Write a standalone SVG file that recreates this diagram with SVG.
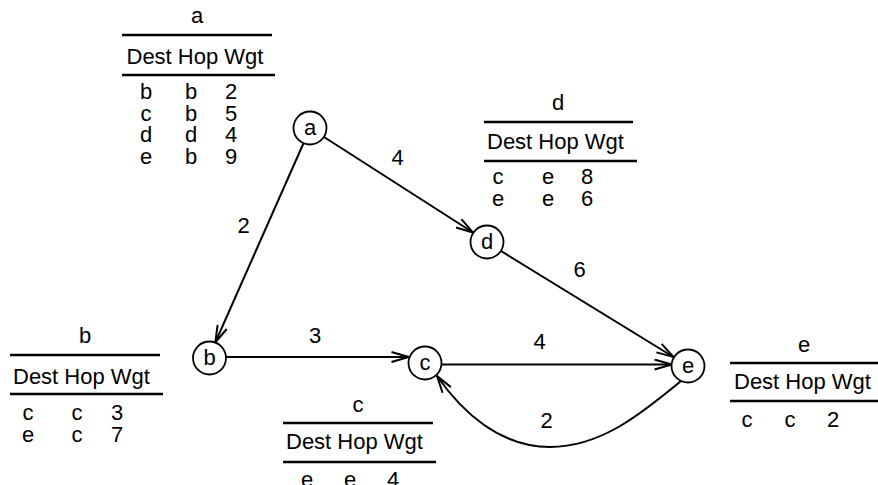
<svg xmlns="http://www.w3.org/2000/svg" width="878" height="485" viewBox="0 0 878 485">
<defs>
<style>
text{font-family:"Liberation Sans",Arial,sans-serif;font-size:22px;fill:#000}
.m{text-anchor:middle}
.rule{stroke:#000;stroke-width:2.5;fill:none}
.node circle{fill:#fff;stroke:#000;stroke-width:1.8}
.edge{stroke:#000;stroke-width:2;fill:none;marker-end:url(#arr)}
</style>
<marker id="arr" markerUnits="userSpaceOnUse" viewBox="0 0 18 12" refX="17.5" refY="6" markerWidth="18" markerHeight="12" orient="auto">
<path d="M0.5,1 L17.5,6 L0.5,11" fill="none" stroke="#000" stroke-width="2"/>
</marker>
</defs>
<rect width="878" height="485" fill="#fff"/>

<g id="connectors">
<line class="edge" x1="303.4" y1="143.5" x2="215.3" y2="342.5"/>
<line class="edge" x1="324" y1="137" x2="473" y2="232.5"/>
<line class="edge" x1="501" y1="251" x2="673.5" y2="357"/>
<line class="edge" x1="226" y1="357" x2="408.5" y2="357"/>
<line class="edge" x1="441.5" y1="364.5" x2="671.5" y2="364.5"/>
<path class="edge" d="M681,381 C640,415 600,447 550,447 C500,447 462,412 437,376"/>
<text class="m" x="397.5" y="165">4</text>
<text class="m" x="243.5" y="233">2</text>
<text class="m" x="579.5" y="277">6</text>
<text class="m" x="315" y="343">3</text>
<text class="m" x="539.5" y="349">4</text>
<text class="m" x="546.5" y="428">2</text>
</g>

<g id="node-a" class="node"><circle cx="310" cy="128" r="16.5"/><text class="m" x="310" y="134.5">a</text></g>
<g id="node-b" class="node"><circle cx="209.5" cy="358" r="16.5"/><text class="m" x="209.5" y="365">b</text></g>
<g id="node-c" class="node"><circle cx="425" cy="363" r="16.5"/><text class="m" x="425" y="369.5">c</text></g>
<g id="node-d" class="node"><circle cx="487" cy="242" r="16.5"/><text class="m" x="487" y="249">d</text></g>
<g id="node-e" class="node"><circle cx="688" cy="366" r="16.5"/><text class="m" x="688" y="372.5">e</text></g>

<g id="table-a">
<text class="m" x="197" y="23">a</text>
<line class="rule" x1="122" y1="35" x2="272" y2="35"/>
<text x="126.5" y="64">Dest Hop Wgt</text>
<line class="rule" x1="122" y1="75" x2="275" y2="75"/>
<text class="m" x="146" y="99">b</text><text class="m" x="191" y="99">b</text><text class="m" x="231" y="99">2</text>
<text class="m" x="146" y="120.5">c</text><text class="m" x="191" y="120.5">b</text><text class="m" x="231" y="120.5">5</text>
<text class="m" x="146" y="142">d</text><text class="m" x="191" y="142">d</text><text class="m" x="231" y="142">4</text>
<text class="m" x="146" y="163.5">e</text><text class="m" x="191" y="163.5">b</text><text class="m" x="231" y="163.5">9</text>
</g>

<g id="table-b">
<text class="m" x="85" y="343">b</text>
<line class="rule" x1="10" y1="355" x2="160" y2="355"/>
<text x="13" y="384">Dest Hop Wgt</text>
<line class="rule" x1="10" y1="394" x2="163" y2="394"/>
<text class="m" x="28" y="420">c</text><text class="m" x="77" y="420">c</text><text class="m" x="117" y="420">3</text>
<text class="m" x="28" y="441.5">e</text><text class="m" x="77" y="441.5">c</text><text class="m" x="117" y="441.5">7</text>
</g>

<g id="table-c">
<text class="m" x="358" y="412">c</text>
<line class="rule" x1="283" y1="423" x2="433" y2="423"/>
<text x="286" y="449">Dest Hop Wgt</text>
<line class="rule" x1="283" y1="462" x2="436" y2="462"/>
<text class="m" x="307" y="487">e</text><text class="m" x="350" y="487">e</text><text class="m" x="393" y="487">4</text>
</g>

<g id="table-d">
<text class="m" x="558" y="110">d</text>
<line class="rule" x1="484" y1="122" x2="633" y2="122"/>
<text x="487" y="149">Dest Hop Wgt</text>
<line class="rule" x1="484" y1="161" x2="637" y2="161"/>
<text class="m" x="498" y="184">c</text><text class="m" x="548" y="184">e</text><text class="m" x="587" y="184">8</text>
<text class="m" x="498" y="205.5">e</text><text class="m" x="548" y="205.5">e</text><text class="m" x="587" y="205.5">6</text>
</g>

<g id="table-e">
<text class="m" x="804" y="352">e</text>
<line class="rule" x1="730" y1="363" x2="880" y2="363"/>
<text x="734" y="389">Dest Hop Wgt</text>
<line class="rule" x1="730" y1="401" x2="880" y2="401"/>
<text class="m" x="747" y="427">c</text><text class="m" x="790" y="427">c</text><text class="m" x="833" y="427">2</text>
</g>
</svg>
